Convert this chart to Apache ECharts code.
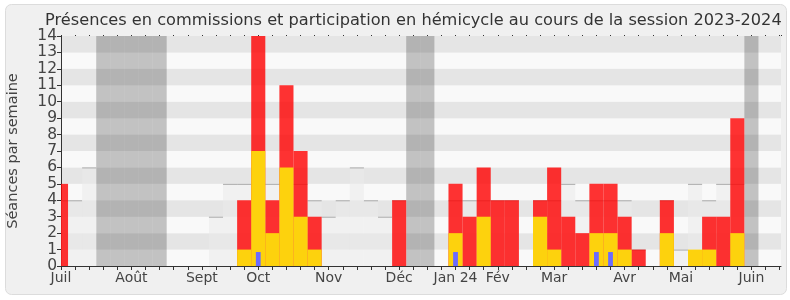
<!DOCTYPE html>
<html><head><meta charset="utf-8">
<script src="https://cdn.jsdelivr.net/npm/echarts@6/dist/echarts.min.js"></script>
<style>html,body{margin:0;padding:0;background:#fff}#c{width:790px;height:300px}</style>
</head><body><div id="c"></div>
<script>
// week index 0..51 (session 2023-2024, weekly)
const weeks = [0,1,2,3,4,5,6,7,8,9,10,11,12,13,14,15,16,17,18,19,20,21,22,23,24,25,26,27,28,29,30,31,32,33,34,35,36,37,38,39,40,41,42,43,44,45,46,47,48,49,50,51];
const hemicycle = [5,0,0,0,0,0,0,0,0,0,0,0,0,4,14,4,11,7,3,0,0,0,0,0,4,0,0,0,5,3,6,4,4,0,4,6,3,2,5,5,3,1,0,4,0,0,3,3,9,0,0,0];
const commission = [0,0,0,0,0,0,0,0,0,0,0,0,0,1,7,2,6,3,1,0,0,0,0,0,0,0,0,0,2,0,3,0,0,0,3,1,0,0,2,2,1,0,0,2,0,1,1,0,2,0,0,0];
const questions = [0,0,0,0,0,0,0,0,0,0,0,0,0,0,0.85,0,0,0,0,0,0,0,0,0,0,0,0,0,0.85,0,0,0,0,0,0,0,0,0,0.85,0.85,0,0,0,0,0,0,0,0,0,0,0,0];
const median = [4,4,6,0,0,0,0,0,0,0,0,3,5,5,5,5,5,5,4,3,4,6,4,3,4,0,0,0,4,4,4,4,4,0,4,4,5,4,4,4,4,1,0,4,1,5,4,5,5,0,0,0];
const vacation = [3,4,5,6,7,25,26,49];
const monthTicks = {0:'Juil',5:'Août',10:'Sept',14:'Oct',19:'Nov',24:'Déc',28:'Jan 24',31:'Fév',35:'Mar',40:'Avr',44:'Mai',49:'Juin'};
const yTicks = [0,1,2,3,4,5,6,7,8,9,10,11,12,13,14];

const FONT = 'DejaVu Sans';

function clampRect(params, api, xc, frac, v0, v1) {
  const a = api.coord([xc - frac / 2, v0]);
  const b = api.coord([xc + frac / 2, v1]);
  const cs = params.coordSys;
  const x0 = Math.max(a[0], cs.x), x1 = Math.min(b[0], cs.x + cs.width);
  const y0 = Math.max(b[1], cs.y);
  return {x: x0, y: y0, width: Math.max(0, x1 - x0), height: a[1] - y0};
}
function barSeries(name, data, frac, fill, z) {
  return {
    type: 'custom', name, z, silent: true,
    data: data,
    renderItem: function (params, api) {
      const r = clampRect(params, api, api.value(0), frac, api.value(1), api.value(2));
      return {type: 'rect', shape: r, style: {fill: fill}};
    }
  };
}
const redData = [], yelData = [], blueData = [], medData = [], vacData = [];
weeks.forEach(function (w, i) {
  if (hemicycle[i] > 0) redData.push([w, 0, hemicycle[i]]);
  if (commission[i] > 0) yelData.push([w, 0, commission[i]]);
  if (questions[i] > 0) blueData.push([w, 0, questions[i]]);
  if (median[i] > 0) medData.push([w, 0, median[i]]);
});
vacation.forEach(function (w) { vacData.push([w, 0, 14]); });

const chart = echarts.init(document.getElementById('c'));
chart.setOption({
  backgroundColor: '#ffffff',
  animation: false,
  textStyle: {fontFamily: FONT},
  title: {
    text: 'Présences en commissions et participation en hémicycle au cours de la session 2023-2024',
    left: 40, top: 8,
    textStyle: {fontFamily: FONT, fontSize: 16.2, fontWeight: 'normal', color: '#333333'}
  },
  graphic: [{
    type: 'rect', z: -10, silent: true,
    shape: {x: 5.5, y: 4.5, width: 781, height: 290, r: 6},
    style: {fill: '#f0f0f0', stroke: '#dcdcdc', lineWidth: 1}
  }],
  grid: {left: 61, right: 9, top: 36, bottom: 34, containLabel: false, outerBoundsMode: 'none'},
  xAxis: [{
    type: 'value', min: 0, max: 51.1, interval: 1,
    axisLine: {show: true, lineStyle: {color: '#333333', width: 1}},
    axisTick: {show: true, length: 4, lineStyle: {color: '#333333'}},
    axisLabel: {
      color: '#444444', fontSize: 14, fontFamily: FONT, margin: 5, showMaxLabel: false,
      formatter: function (v) { return monthTicks[v] || ''; }
    },
    splitLine: {show: false}
  }, {
    type: 'value', position: 'top', min: 0, max: 51.1, interval: 1,
    axisLine: {show: false},
    axisTick: {show: true, inside: false, length: 1, lineStyle: {color: '#333333'}},
    axisLabel: {show: false}, splitLine: {show: false}
  }],
  yAxis: {
    type: 'value', min: 0, max: 14, interval: 1,
    name: 'Séances par semaine', nameLocation: 'middle', nameGap: 40,
    nameTextStyle: {fontFamily: FONT, fontSize: 14.5, color: '#444444'},
    axisLine: {show: true, lineStyle: {color: '#333333'}},
    axisTick: {show: true, length: 4, lineStyle: {color: '#333333'}},
    axisLabel: {color: '#444444', fontSize: 15.5, fontFamily: FONT, margin: 4,
      formatter: function (v) { return yTicks.indexOf(v) >= 0 ? String(v) : ''; }},
    splitLine: {show: false},
    splitArea: {show: true, areaStyle: {color: ['#f9f9f9', '#e5e5e5']}}
  },
  series: [
    barSeries('Vacances', vacData, 1, 'rgba(40,40,40,0.26)', 1),
    {
      type: 'custom', name: 'Médiane', z: 2, silent: true, data: medData,
      renderItem: function (params, api) {
        const r = clampRect(params, api, api.value(0), 1, api.value(1), api.value(2));
        return {type: 'group', children: [
          {type: 'rect', shape: r, style: {fill: 'rgba(235,235,235,0.55)'}},
          {type: 'line', shape: {x1: r.x, y1: r.y + 0.5, x2: r.x + r.width, y2: r.y + 0.5},
           style: {stroke: '#aaaaaa', lineWidth: 1}}
        ]};
      }
    },
    barSeries('Participation en hémicycle', redData, 1, 'rgba(255,0,0,0.8)', 3),
    barSeries('Présences en commissions', yelData, 1, '#fdd20d', 4),
    barSeries('Questions orales', blueData, 0.34, '#6b6bff', 5)
  ]
});
</script></body></html>
